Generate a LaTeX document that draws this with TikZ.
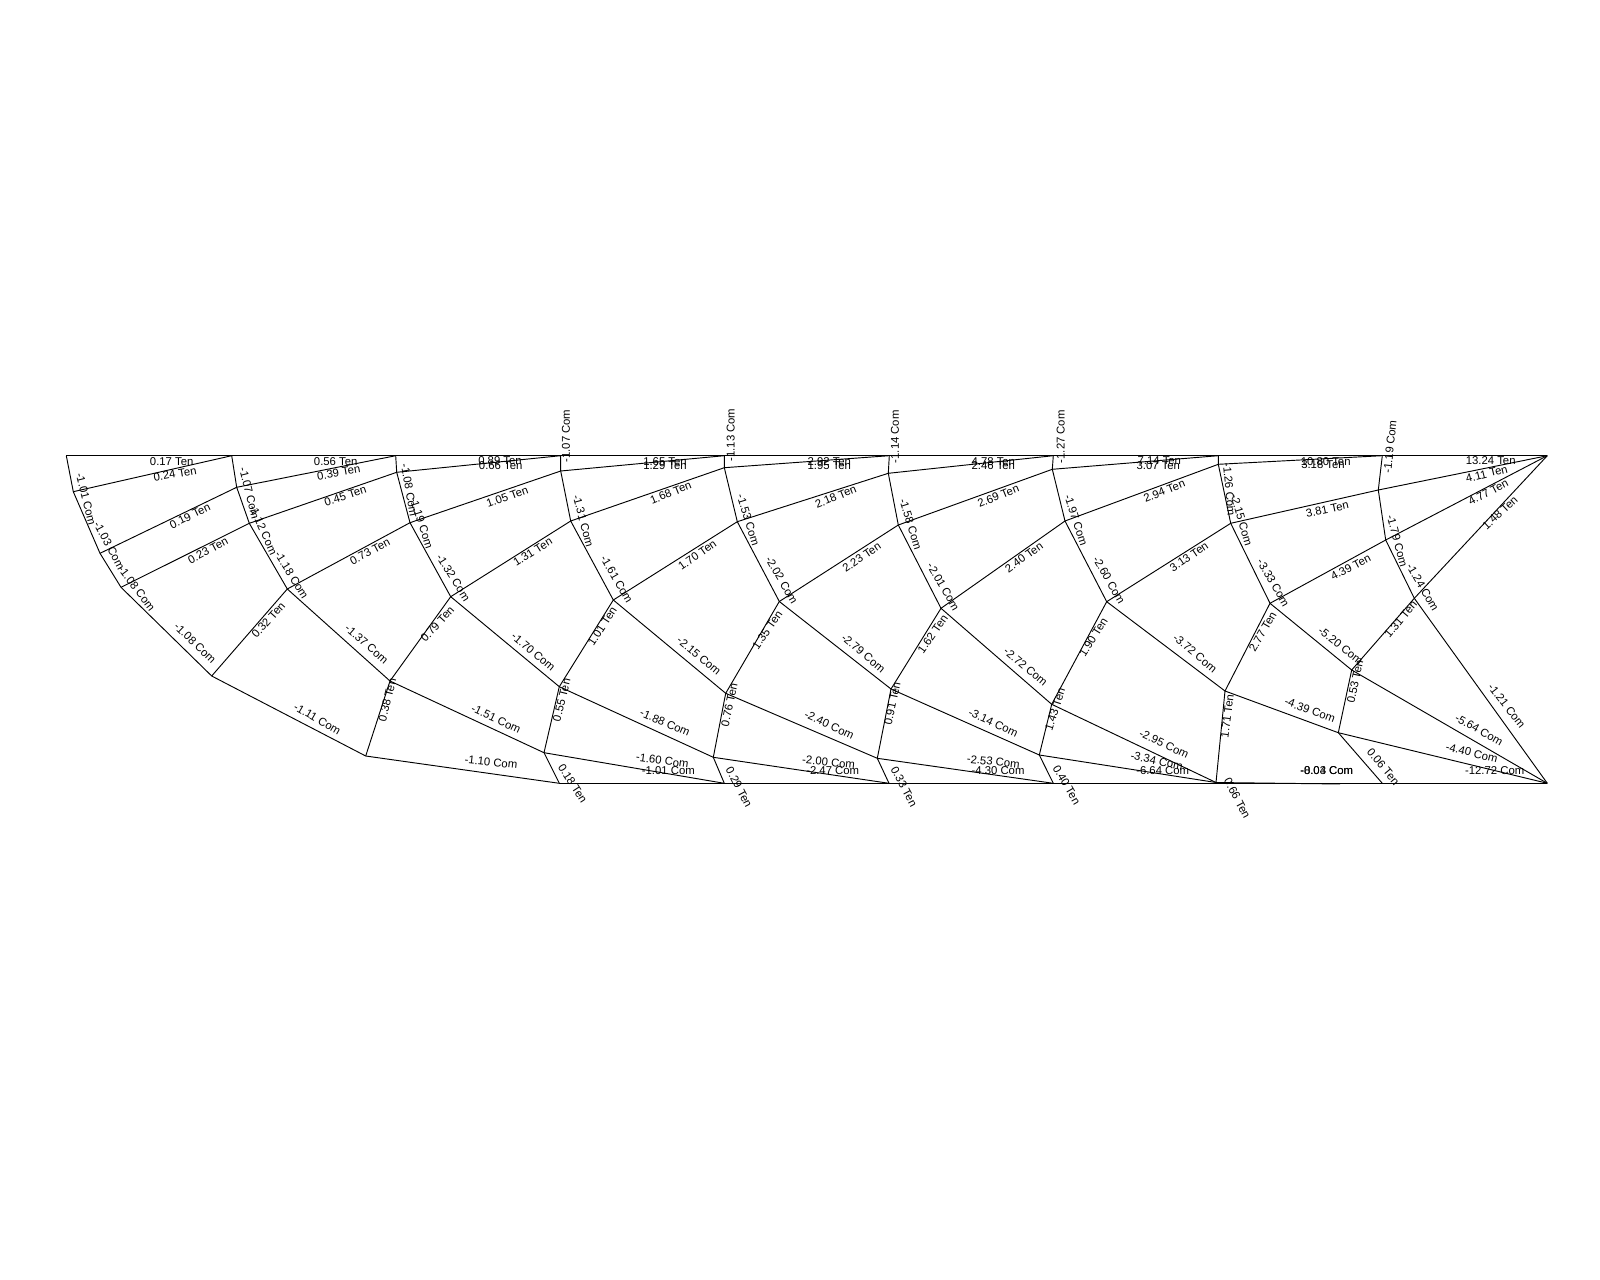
\documentclass[tikz,border=0pt]{standalone}
\usepackage{fontspec}
\setmainfont{Liberation Sans}
\tikzset{
  member/.style={draw=black,line width=0.7pt},
  chord/.style={draw=black,line width=0.85pt},
  lab/.style={inner sep=0pt,font=\fontsize{8.5}{9}\selectfont,text=black}
}
\newcommand{\lb}[5]{\node[lab,rotate=#4] (#1) at (#2,#3) {#5};}
\begin{document}
\begin{tikzpicture}[x=0.75pt,y=-0.75pt]
\useasboundingbox (0,0) rectangle (1600,1280);
\fill[white] (0,0) rectangle (1600,1280);
% joints
\foreach \n/\x/\y in {
 t0/66.3/455.7,t1/231.7/455.7,t2/395.7/455.7,t3/560.7/455.7,t4/724.3/455.7,t5/889.3/455.7,t6/1053.3/455.7,t7/1218.3/455.7,t8/1382.3/455.7,tip/1547.3/455.7,
 a1/73.3/491.7,a2/100/553.3,a3/121/587.3,a4/211.7/676,a5/365.7/756,
 b1/236.7/487.3,b2/396.7/472.3,b3/560.7/471,b4/724.3/467.7,b5/888.3/473.3,b6/1052.3/469.3,b7/1218.3/464.3,b8/1378.3/490,
 c1/249.3/523.3,c2/410/522.7,c3/570.7/521,c4/737.3/521.7,c5/898.3/525,c6/1065/521,c7/1230.7/523.3,c8/1385.7/540,
 d1/287.3/589,d2/450.7/596.7,d3/613.3/600,d4/779.3/601.5,d5/941/608.3,d6/1106.7/601.7,d7/1270/603.3,d8/1414.3/598.3,
 e1/390/681,e2/559.3/686.7,e3/725.7/693.3,e4/891/689,e5/1051.7/704.3,e6/1225/691,e7/1351.7/670,
 f1/544/752.7,f2/713.3/757.3,f3/877.3/758.3,f4/1039.3/755,f5/1338.3/732.7,
 g1/559.3/783.3,g2/724.3/783.3,g3/889/783.3,g4/1053.3/783.3,g5/1216/782.5,g5b/1340/784,g6/1382.3/783.3,bot/1547.3/783.3}
 {\coordinate (\n) at (\x,\y);}
% chords
\draw[chord] (t0) -- (tip);
\draw[chord] (g1) -- (bot);
\draw[member] (g5) -- (g5b);
\draw[member] (t0) -- (a1) -- (a2) -- (a3) -- (a4) -- (a5) -- (g1);
% upper diagonals
\draw[member] (a1) -- (t1);
\draw[member] (a2) -- (b1) -- (t2);
\draw[member] (a3) -- (c1) -- (b2) -- (t3);
\draw[member] (a4) -- (d1) -- (c2) -- (b3) -- (t4);
\draw[member] (a5) -- (e1) -- (d2) -- (c3) -- (b4) -- (t5);
\draw[member] (f1) -- (e2) -- (d3) -- (c4) -- (b5) -- (t6);
\draw[member] (f2) -- (e3) -- (d4) -- (c5) -- (b6) -- (t7);
\draw[member] (f3) -- (e4) -- (d5) -- (c6) -- (b7) -- (t8);
\draw[member] (f4) -- (e5) -- (d6) -- (c7) -- (b8) -- (tip);
\draw[member] (g5) -- (e6) -- (d7) -- (c8) -- (tip);
\draw[member] (f5) -- (e7) -- (d8) -- (tip);
% lower diagonals
\draw[member] (t1) -- (b1) -- (c1) -- (d1) -- (e1) -- (f1) -- (g1);
\draw[member] (t2) -- (b2) -- (c2) -- (d2) -- (e2) -- (f2) -- (g2);
\draw[member] (t3) -- (b3) -- (c3) -- (d3) -- (e3) -- (f3) -- (g3);
\draw[member] (t4) -- (b4) -- (c4) -- (d4) -- (e4) -- (f4) -- (g4);
\draw[member] (t5) -- (b5) -- (c5) -- (d5) -- (e5) -- (g5);
\draw[member] (t6) -- (b6) -- (c6) -- (d6) -- (e6) -- (f5) -- (g6);
\draw[member] (t7) -- (b7) -- (c7) -- (d7) -- (e7) -- (bot);
\draw[member] (t8) -- (b8) -- (c8) -- (d8) -- (bot);
\draw[member] (f1) -- (g2);
\draw[member] (f2) -- (g3);
\draw[member] (f3) -- (g4);
\draw[member] (f4) -- (g5);
\draw[member] (f5) -- (bot);
% labels
\lb{l1}{171.7}{461.3}{0}{0.17 Ten}
\lb{l2}{175}{474}{10}{0.24 Ten}
\lb{l3}{86}{499}{-76}{-1.01 Com}
\lb{l4}{109.3}{545.7}{-62}{-1.03 Com}
\lb{l5}{136.7}{588.3}{-53}{-1.08 Com}
\lb{l6}{195}{643.3}{-44}{-1.08 Com}
\lb{l7}{317.3}{719}{-30}{-1.11 Com}
\lb{l8}{190}{516}{26}{0.19 Ten}
\lb{l9}{208}{550.7}{28}{0.23 Ten}
\lb{l10}{268.3}{620}{48}{0.32 Ten}
\lb{l11}{335.7}{461.3}{0}{0.56 Ten}
\lb{l12}{338.7}{472.7}{10}{0.39 Ten}
\lb{l13}{345.3}{496}{18}{0.45 Ten}
\lb{l14}{249.3}{493.3}{-76}{-1.07 Com}
\lb{l15}{263.3}{530}{-66}{-1.12 Com}
\lb{l16}{291.7}{575}{-58}{-1.18 Com}
\lb{l17}{370}{551.7}{28}{0.73 Ten}
\lb{l18}{366.7}{644.3}{-41}{-1.37 Com}
\lb{l19}{387.3}{700}{76}{0.38 Ten}
\lb{l20}{409.3}{490}{-80}{-1.08 Com}
\lb{l21}{421.7}{523.3}{-72}{-1.19 Com}
\lb{l22}{500}{461}{0}{0.89 Ten}
\lb{l23}{500.7}{465.7}{0}{0.66 Ten}
\lb{l24}{507.3}{496.7}{20}{1.05 Ten}
\lb{l25}{453.3}{577.7}{-58}{-1.32 Com}
\lb{l26}{532.7}{551.7}{32}{1.31 Ten}
\lb{l27}{437.3}{624}{48}{0.79 Ten}
\lb{l28}{533.3}{651.7}{-40}{-1.70 Com}
\lb{l29}{496}{719}{-25}{-1.51 Com}
\lb{l30}{561.7}{700}{76}{0.55 Ten}
\lb{l31}{566}{436}{90}{-1.07 Com}
\lb{l32}{602.3}{626}{57}{1.01 Ten}
\lb{l33}{583.3}{520.7}{-75}{-1.31 Com}
\lb{l34}{616.7}{579.3}{-60}{-1.61 Com}
\lb{l35}{665}{461.3}{0}{1.65 Ten}
\lb{l36}{665}{466}{0}{1.29 Ten}
\lb{l37}{670.7}{492.7}{22}{1.68 Ten}
\lb{l38}{697.3}{555}{35}{1.70 Ten}
\lb{l39}{699}{655.7}{-40}{-2.15 Com}
\lb{l40}{665}{722.7}{-23}{-1.88 Com}
\lb{l41}{662.3}{760.7}{-8}{-1.60 Com}
\lb{l42}{668.3}{771}{0}{-1.01 Com}
\lb{l43}{491}{762.3}{-6}{-1.10 Com}
\lb{l44}{572.7}{783.3}{-57}{0.18 Ten}
\lb{l45}{739}{787.3}{-62}{0.29 Ten}
\lb{l46}{730.7}{435}{90}{-1.13 Com}
\lb{l47}{748.3}{520}{-73}{-1.53 Com}
\lb{l48}{767.3}{630}{55}{1.35 Ten}
\lb{l49}{729.3}{705}{78}{0.76 Ten}
\lb{l50}{781.7}{580}{-60}{-2.02 Com}
\lb{l51}{829.3}{461.3}{0}{2.92 Ten}
\lb{l52}{829.3}{465.7}{0}{1.95 Ten}
\lb{l53}{835.7}{496.7}{22}{2.18 Ten}
\lb{l54}{861.7}{557.3}{34}{2.23 Ten}
\lb{l55}{863.3}{653.3}{-40}{-2.79 Com}
\lb{l56}{829.3}{725}{-25}{-2.40 Com}
\lb{l57}{828.7}{762.3}{-6}{-2.00 Com}
\lb{l58}{832.7}{771}{0}{-2.47 Com}
\lb{l59}{904}{786.7}{-62}{0.33 Ten}
\lb{l60}{892.3}{703.3}{78}{0.91 Ten}
\lb{l61}{932.7}{634}{55}{1.62 Ten}
\lb{l62}{943.3}{586.7}{-60}{-2.01 Com}
\lb{l63}{910.7}{524.3}{-73}{-1.58 Com}
\lb{l64}{895}{436.7}{90}{-1.14 Com}
\lb{l65}{993.3}{461.3}{0}{4.78 Ten}
\lb{l66}{993.3}{466}{0}{2.46 Ten}
\lb{l67}{998.3}{496}{22}{2.69 Ten}
\lb{l68}{1024}{557.3}{36}{2.40 Ten}
\lb{l69}{1025.7}{666.7}{-40}{-2.72 Com}
\lb{l70}{993.3}{722.7}{-25}{-3.14 Com}
\lb{l71}{993.3}{761.7}{-6}{-2.53 Com}
\lb{l72}{998}{771}{0}{-4.30 Com}
\lb{l73}{1066.7}{785}{-60}{0.40 Ten}
\lb{l74}{1055}{709.3}{72}{1.43 Ten}
\lb{l75}{1093.3}{637.3}{58}{1.90 Ten}
\lb{l76}{1109}{580}{-60}{-2.60 Com}
\lb{l77}{1076}{520}{-72}{-1.97 Com}
\lb{l78}{1060.7}{436.7}{90}{-1.27 Com}
\lb{l79}{1159.3}{461}{0}{7.14 Ten}
\lb{l80}{1158.3}{465.7}{0}{3.07 Ten}
\lb{l81}{1164.3}{491}{22}{2.94 Ten}
\lb{l82}{1189}{556.7}{34}{3.13 Ten}
\lb{l83}{1195}{653.3}{-40}{-3.72 Com}
\lb{l84}{1164}{744}{-25}{-2.95 Com}
\lb{l85}{1156.7}{760.7}{-12}{-3.34 Com}
\lb{l86}{1162.7}{771}{0}{-6.64 Com}
\lb{l87}{1237.3}{798.3}{-62}{0.66 Ten}
\lb{l88}{1227.3}{716}{83}{1.71 Ten}
\lb{l89}{1262.7}{631.7}{60}{2.77 Ten}
\lb{l90}{1273.3}{582.7}{-60}{-3.33 Com}
\lb{l91}{1229.3}{489.3}{-85}{-1.26 Com}
\lb{l92}{1241.7}{520}{-74}{-2.15 Com}
\lb{l93}{1325.7}{461.3}{0}{10.80 Ten}
\lb{l94}{1323}{465}{0}{3.18 Ten}
\lb{l95}{1327.3}{509.3}{12}{3.81 Ten}
\lb{l96}{1350.7}{567.3}{28}{4.39 Ten}
\lb{l97}{1340.7}{645.7}{-38}{-5.20 Com}
\lb{l98}{1310}{710}{-20}{-4.39 Com}
\lb{l99}{1326.7}{771}{0}{-8.04 Com}
\lb{l100}{1326.7}{771}{0}{-0.03 Com}
\lb{l101}{1355}{681.7}{78}{0.53 Ten}
\lb{l102}{1400.7}{619.3}{50}{1.31 Ten}
\lb{l103}{1397.3}{540.7}{-75}{-1.79 Com}
\lb{l104}{1422.7}{587.3}{-60}{-1.24 Com}
\lb{l105}{1390}{446.7}{84}{-1.19 Com}
\lb{l106}{1500}{512.7}{43}{1.48 Ten}
\lb{l107}{1488.3}{492.3}{28}{4.77 Ten}
\lb{l108}{1486.7}{474}{14}{4.11 Ten}
\lb{l109}{1490.7}{461}{0}{13.24 Ten}
\lb{l110}{1506.7}{706}{-52}{-1.21 Com}
\lb{l111}{1479}{730}{-30}{-5.64 Com}
\lb{l112}{1471.7}{752.7}{-14}{-4.40 Com}
\lb{l113}{1494.7}{770.7}{0}{-12.72 Com}
\lb{l114}{1383.3}{766.7}{-50}{0.06 Ten}
\end{tikzpicture}
\end{document}
